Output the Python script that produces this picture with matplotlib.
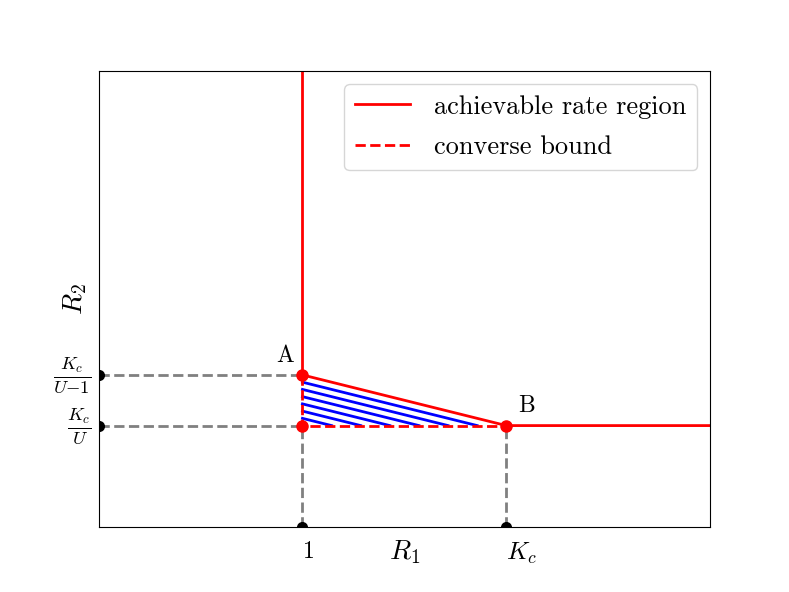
import matplotlib

matplotlib.use("Agg")
import matplotlib.pyplot as plt  # noqa: E402
import matplotlib.transforms as mtransforms  # noqa: E402

plt.rcParams["mathtext.fontset"] = "cm"
plt.rcParams["font.family"] = "serif"
plt.rcParams["font.serif"] = ["cmr10"]
plt.rcParams["axes.unicode_minus"] = False
plt.rcParams["axes.formatter.use_mathtext"] = True

# corner points of the region (R1, R2)
point_a = (1.0, 1.5)
point_b = (2.0, 1.0)
corner = (1.0, 1.0)
x_max = 3.0
y_max = 4.5

x_ticks = [1.0, 2.0]
x_tick_labels = [r"$1$", r"$K_c$"]
y_ticks = [1.0, 1.5]
y_tick_labels = [r"$\frac{K_c}{U}$", r"$\frac{K_c}{U{-}1}$"]

# hatch lines inside the triangle, as fractions along the bottom edge
hatch_fracs = [1 / 7, 2 / 7, 3 / 7, 4 / 7, 5 / 7, 6 / 7]

fig, ax = plt.subplots(figsize=(7.89, 5.92), dpi=100)

# guide lines to the axes
for x, y in [point_a, corner]:
    ax.plot([0, x], [y, y], ls="--", lw=2, color="gray")
for x in [corner[0], point_b[0]]:
    ax.plot([x, x], [0, point_b[1]], ls="--", lw=2, color="gray")

# half dots sitting on the spines
half = dict(marker="o", ls="none", ms=8, mew=0, color="black",
            markerfacecoloralt="none", zorder=3, clip_on=False)
ax.plot([0, 0], [corner[1], point_a[1]], fillstyle="right", **half)
ax.plot([corner[0], point_b[0]], [0, 0], fillstyle="top", **half)

# hatch
slope = (point_b[1] - point_a[1]) / (point_b[0] - point_a[0])
for f in hatch_fracs:
    x_end = corner[0] + f * (point_b[0] - corner[0])
    y_start = corner[1] - slope * (x_end - corner[0])
    ax.plot([corner[0], x_end], [y_start, corner[1]], color="blue", lw=2)

# achievable region
ax.plot([point_a[0], point_a[0]], [y_max, point_a[1]], color="red", lw=2,
        label="achievable rate region")
ax.plot([point_a[0], point_b[0], x_max], [point_a[1], point_b[1], point_b[1]],
        color="red", lw=2)
# converse bound
ax.plot([point_a[0], corner[0], point_b[0]], [point_a[1], corner[1], corner[1]],
        color="red", lw=2, ls="--", label="converse bound")
ax.plot([point_a[0], corner[0], point_b[0]], [point_a[1], corner[1], point_b[1]],
        "o", color="red", ms=8, zorder=3)

ax.text(point_a[0] - 0.04, point_a[1] + 0.08, "A", fontsize=17, ha="right",
        va="bottom")
ax.text(point_b[0] + 0.06, point_b[1] + 0.08, "B", fontsize=17, ha="left",
        va="bottom")

ax.set_xlim(0, x_max)
ax.set_ylim(0, y_max)
ax.set_xticks(x_ticks, x_tick_labels, fontsize=17, ha="left")
ax.get_xticklabels()[1].set_fontsize(18)
ax.set_yticks(y_ticks, y_tick_labels, fontsize=19)
ax.tick_params(length=0)
ax.tick_params(axis="x", pad=10)
ax.tick_params(axis="y", pad=5)
lift = mtransforms.ScaledTranslation(0, 6 / 100, fig.dpi_scale_trans)
for lab in ax.get_yticklabels():
    lab.set_transform(lab.get_transform() + lift)

ax.set_xlabel(r"$R_1$", fontsize=20)
ax.xaxis.set_label_coords(0.5, -0.026)
ax.set_ylabel(r"$R_2$", fontsize=20)
ax.yaxis.set_label_coords(-0.016, 0.5)
ax.legend(loc="upper right", fontsize=19, labelspacing=0.65,
          handlelength=2.1, handletextpad=0.9)

fig.savefig("out.png", dpi=100)
plt.close(fig)
